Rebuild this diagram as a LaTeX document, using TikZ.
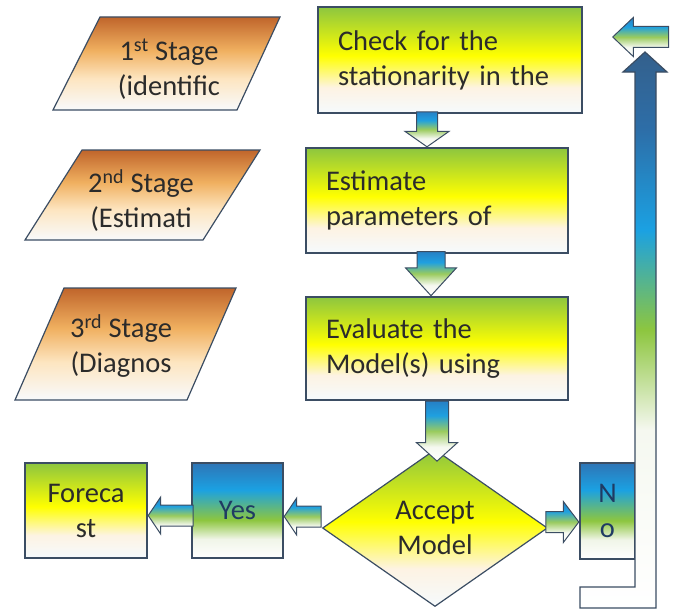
\documentclass[tikz,border=0pt]{standalone}
\usepackage{fontspec}
\setmainfont{Carlito}
\usetikzlibrary{shapes.geometric,shapes.arrows}

\definecolor{edge}{HTML}{3B4D63}
\definecolor{ink}{HTML}{2B2B2B}
\definecolor{navy}{HTML}{1F3B63}
% green boxes
\definecolor{gTop}{HTML}{8DC63F}
\definecolor{gYel}{HTML}{FFFF00}
\definecolor{gPch}{HTML}{FDF3E3}
\definecolor{gBot}{HTML}{F5FAFD}
% stages
\definecolor{oTop}{HTML}{C0652B}
\definecolor{oMid}{HTML}{F0B060}
\definecolor{oPch}{HTML}{FDE5C0}
\definecolor{oBot}{HTML}{F8FAFC}
% yes / no
\definecolor{bTop}{HTML}{2E75B6}
\definecolor{bMid}{HTML}{1BA1E2}
\definecolor{bGrn}{HTML}{8DC63F}
\definecolor{bPal}{HTML}{F0F5E8}
% arrows
\definecolor{aTop}{HTML}{2680C5}
\definecolor{aMid}{HTML}{1FA0E0}
\definecolor{aGrn}{HTML}{9ACB5E}
\definecolor{aPal}{HTML}{F5F8F0}
\definecolor{lTop}{HTML}{34608C}
\definecolor{lDrk}{HTML}{2D6EA8}

\pgfdeclareverticalshading{greenfill}{100bp}{color(0bp)=(gBot); color(25bp)=(gBot);
  color(37bp)=(gPch); color(52bp)=(gYel); color(75bp)=(gTop); color(100bp)=(gTop)}
\pgfdeclareverticalshading{stagefill}{100bp}{color(0bp)=(oBot); color(25bp)=(oBot);
  color(42bp)=(oPch); color(57bp)=(oMid); color(75bp)=(oTop); color(100bp)=(oTop)}
\pgfdeclareverticalshading{bluefill}{100bp}{color(0bp)=(white); color(25bp)=(white);
  color(35bp)=(bPal); color(45bp)=(bGrn); color(61bp)=(bMid); color(75bp)=(bTop); color(100bp)=(bTop)}
\pgfdeclareverticalshading{arrowfill}{100bp}{color(0bp)=(white); color(25bp)=(white);
  color(37bp)=(aPal); color(50bp)=(aGrn); color(63bp)=(aMid); color(75bp)=(aTop); color(100bp)=(aTop)}
\pgfdeclareverticalshading{loopfill}{100bp}{color(0bp)=(white); color(25bp)=(white);
  color(41bp)=(aPal); color(50bp)=(bGrn); color(59bp)=(bMid); color(68bp)=(lDrk); color(75bp)=(lTop); color(100bp)=(lTop)}

\newcommand\bodyfont{\fontsize{28.5}{35}\selectfont}

\tikzset{
  box/.style={rectangle,draw=edge,line width=1.2pt,shade,shading=greenfill,
    inner xsep=20pt,inner ysep=0pt,align=left,text=ink,font=\bodyfont},
  stagetext/.style={align=center,text=ink,font=\bodyfont,inner sep=0pt},
  answer/.style={rectangle,draw=edge,line width=1.2pt,shade,shading=bluefill,
    inner sep=0pt,align=center,text=navy,font=\bodyfont},
  blockarr/.style={single arrow,draw=edge,line width=1pt,shade,shading=arrowfill},
  downarr/.style={blockarr,shape border rotate=270,inner ysep=0pt,inner xsep=10pt},
  leftarr/.style={blockarr,shape border rotate=180,inner xsep=0pt,inner ysep=10pt},
  rightarr/.style={blockarr,shape border rotate=0,inner xsep=0pt,inner ysep=10pt},
}

\begin{document}
\begin{tikzpicture}[x=1pt,y=-1pt]
  \useasboundingbox (0,0) rectangle (676,610);

  % stages
  \shade[shading=stagefill,draw=edge,line width=1.2pt]
    (100,17) -- (280,17) -- (237,110) -- (53,110) -- cycle;
  \shade[shading=stagefill,draw=edge,line width=1.2pt]
    (82,150) -- (260,150) -- (203,240) -- (25,240) -- cycle;
  \shade[shading=stagefill,draw=edge,line width=1.2pt]
    (64,288) -- (236,288) -- (187,400) -- (15,400) -- cycle;
  \node[stagetext] (s1) at (169,69) {1\textsuperscript{st} Stage\\(identific};
  \node[stagetext] (s2) at (141,201) {2\textsuperscript{nd} Stage\\(Estimati};
  \node[stagetext] (s3) at (121,346) {3\textsuperscript{rd} Stage\\(Diagnos};

  % main column
  \node[box,text width=224,minimum height=106] (check) at (450,60)
    {Check for the\\stationarity in the};
  \node[box,text width=222,minimum height=105] (estim) at (437,200.5)
    {Estimate\\parameters of};
  \node[box,text width=222,minimum height=103] (eval) at (437,348.5)
    {Evaluate the\\Model(s) using};
  \node[diamond,draw=edge,line width=1.2pt,shade,shading=greenfill,aspect=1.43,
    minimum width=225,minimum height=157,inner sep=0pt,align=center,text=ink,
    font=\bodyfont] (accept) at (435,528) {Accept\\Model};

  \node[answer,minimum width=91,minimum height=95] (yes) at (237.5,510.5) {Yes};
  \node[box,shading=greenfill,inner xsep=0pt,align=center,minimum width=122,
    minimum height=95] (fcast) at (86,510.5) {Foreca\\st};
  \node[answer,minimum width=55,minimum height=96] (no) at (607.5,511) {N\\o};

  % flow
  \node[downarr,minimum height=35,single arrow head extend=11.5,
    single arrow tip angle=110,anchor=tip] (a1) at ([xshift=-10]estim.north) {};
  \node[downarr,minimum height=44,inner xsep=13.5pt,single arrow head extend=11.5,
    single arrow tip angle=85,anchor=tip] (a2) at ([xshift=-6]eval.north) {};
  \node[downarr,minimum height=60,inner xsep=11pt,single arrow head extend=9,
    single arrow tip angle=96,anchor=tail] (a3) at (eval.south) {};
  \node[leftarr,minimum height=37,single arrow head extend=8,
    single arrow tip angle=112,anchor=tip] (a4) at ([yshift=-6]yes.east) {};
  \node[leftarr,minimum height=45,single arrow head extend=8,
    single arrow tip angle=112,anchor=tip] (a5) at ([yshift=-5]fcast.east) {};
  \node[rightarr,minimum height=33,single arrow head extend=10,
    single arrow tip angle=106,anchor=tip] (a6) at ([yshift=-11]no.west) {};

  % back to the start
  \node[leftarr,minimum height=56,single arrow head extend=9,
    single arrow tip angle=87,anchor=tip] (back) at (612,37) {};
  \shade[shading=loopfill,draw=edge,line width=1.2pt]
    (580,587) -- (635,587) -- (635,72) -- (623,72) -- (645,52) -- (667,72)
    -- (656,72) -- (656,608) -- (580,608) -- cycle;
\end{tikzpicture}
\end{document}
